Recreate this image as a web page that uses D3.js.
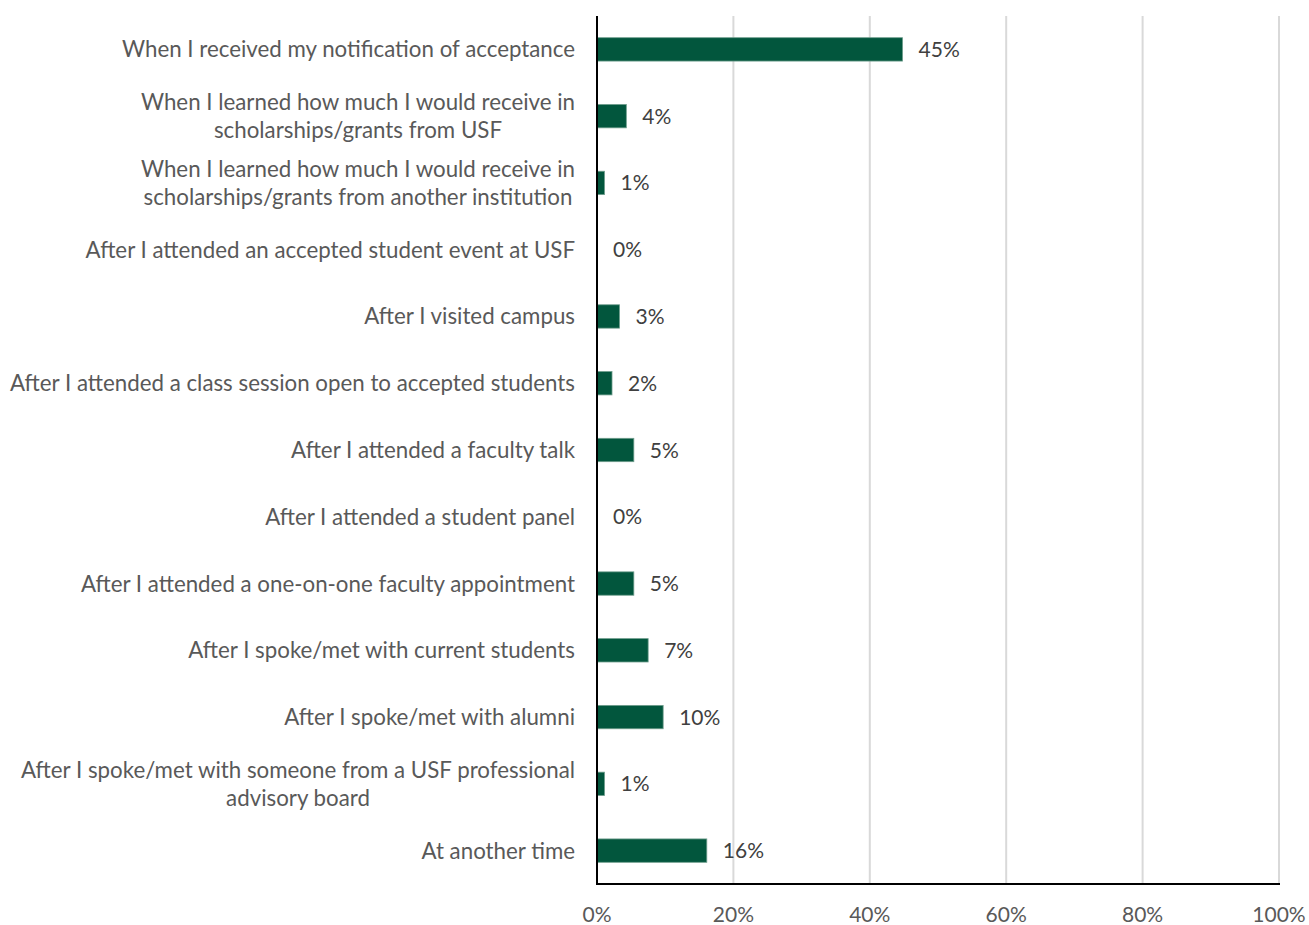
<!DOCTYPE html>
<html><head><meta charset="utf-8">
<script src="https://cdn.jsdelivr.net/npm/d3@7"></script>
<style>body{margin:0;background:#fff;} svg{display:block;font-family:Lato,"Open Sans",sans-serif;}</style>
</head><body>
<svg id="c" width="1309" height="925"></svg>
<script>
const categories = [
  "When I received my notification of acceptance",
  "When I learned how much I would receive in\nscholarships/grants from USF",
  "When I learned how much I would receive in\nscholarships/grants from another institution",
  "After I attended an accepted student event at USF",
  "After I visited campus",
  "After I attended a class session open to accepted students",
  "After I attended a faculty talk",
  "After I attended a student panel",
  "After I attended a one-on-one faculty appointment",
  "After I spoke/met with current students",
  "After I spoke/met with alumni",
  "After I spoke/met with someone from a USF professional\nadvisory board",
  "At another time"
];
const values = [44.8, 4.3, 1.1, 0, 3.3, 2.2, 5.4, 0, 5.4, 7.5, 9.7, 1.1, 16.1];
const valueLabels = ["45%","4%","1%","0%","3%","2%","5%","0%","5%","7%","10%","1%","16%"];
const tickValues = [0, 20, 40, 60, 80, 100];

const svg = d3.select("#c");
const pLeft = 597, pRight = 1279, pTop = 16, pBottom = 884;
const x = d3.scaleLinear().domain([0, 100]).range([pLeft, pRight]);
const y = d3.scaleBand().domain(categories).range([pTop, pBottom]).paddingInner(0.65).paddingOuter(0.325);

// gridlines
svg.append("g").selectAll("line").data(tickValues.slice(1)).join("line")
  .attr("x1", d => x(d)).attr("x2", d => x(d)).attr("y1", pTop).attr("y2", pBottom)
  .attr("stroke", "#d9d9d9").attr("stroke-width", 2);

// bars
svg.append("g").selectAll("rect").data(categories).join("rect")
  .attr("x", x(0)).attr("y", d => y(d))
  .attr("width", (d, i) => x(values[i]) - x(0))
  .attr("height", y.bandwidth())
  .attr("fill", "#02563d").attr("stroke", "#6e9d8c").attr("stroke-width", (d, i) => values[i] > 0 ? 0.8 : 0);

// value labels
svg.append("g").selectAll("text").data(categories).join("text")
  .attr("x", (d, i) => x(values[i]) + 16)
  .attr("y", d => y(d) + y.bandwidth() / 2)
  .attr("dy", "0.36em")
  .attr("font-size", 21).attr("fill", "#404040")
  .text((d, i) => valueLabels[i]);

// axes lines
svg.append("line").attr("x1", pLeft).attr("x2", pLeft).attr("y1", pTop).attr("y2", pBottom + 1)
  .attr("stroke", "#000").attr("stroke-width", 2);
svg.append("line").attr("x1", pLeft - 1).attr("x2", pRight + 1).attr("y1", pBottom).attr("y2", pBottom)
  .attr("stroke", "#000").attr("stroke-width", 2);

// x tick labels
svg.append("g").selectAll("text").data(tickValues).join("text")
  .attr("x", d => x(d)).attr("y", 914).attr("dy", "0.36em")
  .attr("text-anchor", "middle").attr("font-size", 21).attr("fill", "#595959")
  .text(d => d + "%");

// category labels
const lab = svg.append("g");
categories.forEach(c => {
  const lines = c.split("\n");
  const cy = y(c) + y.bandwidth() / 2;
  const lh = 28.5;
  const g = lab.append("g");
  const ts = lines.map((ln, j) => g.append("text")
    .attr("y", cy + (j - (lines.length - 1) / 2) * lh).attr("dy", "0.36em")
    .attr("font-size", 22.3).attr("fill", "#595959").attr("text-anchor", "middle").text(ln));
  const w = d3.max(ts, t => t.node().getComputedTextLength());
  ts.forEach(t => t.attr("x", 575 - w / 2));
});
</script>
</body></html>
